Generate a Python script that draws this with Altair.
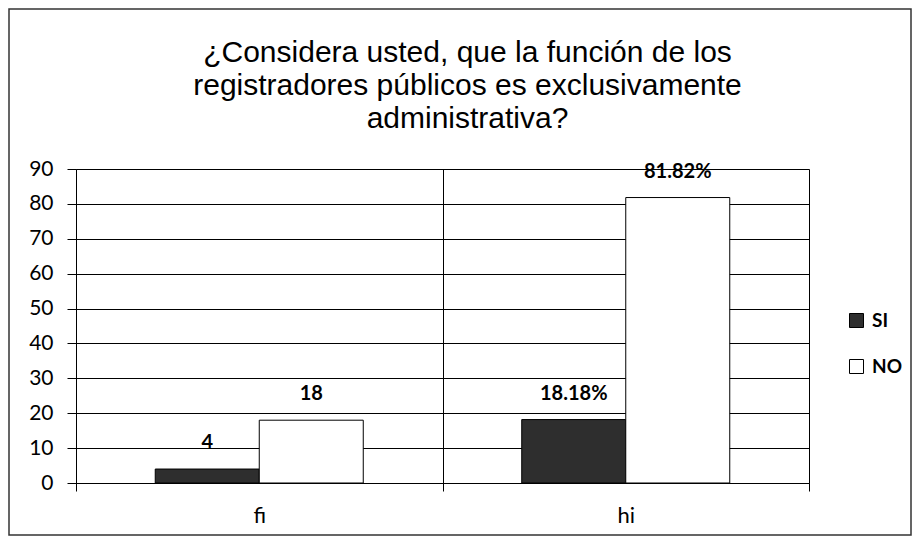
import altair as alt
import pandas as pd

categories = ["fi", "fi", "hi", "hi"]
series = ["SI", "NO", "SI", "NO"]
values = [4, 18, 18.18, 81.82]
labels = ["4", "18", "18.18%", "81.82%"]
y_ticks = [0, 10, 20, 30, 40, 50, 60, 70, 80, 90]
title_lines = [
    "¿Considera usted, que la función de los",
    "registradores públicos es exclusivamente",
    "administrativa?",
]

df = pd.DataFrame({"cat": categories, "serie": series, "valor": values, "etiqueta": labels})

W, H = 733, 314
PL, PT = 68, 161
TOTAL_W, TOTAL_H = 905, 528

x = alt.X(
    "cat:N",
    sort=["fi", "hi"],
    scale=alt.Scale(paddingInner=0, paddingOuter=0),
    axis=alt.Axis(
        title=None, labelAngle=0, tickBand="extent", grid=True, gridColor="black",
        gridOpacity=1, gridWidth=1, labelFont="Lato", labelFontSize=22, labelColor="black",
        tickSize=8, tickColor="black", domainColor="black", labelPadding=14,
    ),
)
xo = alt.XOffset("serie:N", sort=["SI", "NO"], scale=alt.Scale(paddingOuter=0.762, paddingInner=0))
y = alt.Y(
    "valor:Q",
    scale=alt.Scale(domain=[0, 90], nice=False, zero=True),
    axis=alt.Axis(
        title=None, values=y_ticks, grid=True, gridColor="black", gridOpacity=1, gridWidth=1,
        labelFont="Lato", labelFontSize=21, labelColor="black", tickSize=9, tickColor="black",
        domainColor="black", labelPadding=14,
    ),
)

bars = alt.Chart(df).mark_bar(stroke="black", strokeWidth=1).encode(
    x=x,
    xOffset=xo,
    y=y,
    color=alt.Color(
        "serie:N",
        sort=["SI", "NO"],
        scale=alt.Scale(domain=["SI", "NO"], range=["#2e2e2e", "#ffffff"]),
        legend=alt.Legend(
            title=None, orient="none", legendX=771, legendY=142, symbolType="square",
            symbolSize=196, symbolStrokeColor="black", symbolStrokeWidth=1,
            labelFont="Lato", labelFontWeight="bold", labelFontSize=19, labelColor="black",
            rowPadding=26, labelOffset=6, padding=0,
        ),
    ),
)

text = alt.Chart(df).mark_text(
    baseline="middle", dy=-26, font="Lato", fontWeight="bold", fontSize=20, color="black"
).encode(x=x, xOffset=xo, y=y, text="etiqueta:N")

frame = alt.Chart(pd.DataFrame({"k": [0]})).mark_rect(
    filled=False, stroke="#333333", strokeWidth=1.5
).encode(
    x=alt.value(-PL + 1),
    x2=alt.value(TOTAL_W - PL - 2),
    y=alt.value(-PT + 1),
    y2=alt.value(TOTAL_H - PT - 1),
)

# the frame rect defines the top of the bounds (-PT+1); place the title's
# bottom about 34px above the plot area
chart = alt.layer(frame, bars, text).properties(
    width=W,
    height=H,
    autosize=alt.AutoSizeParams(type="none"),
    padding={"left": PL, "top": PT, "right": TOTAL_W - PL - W, "bottom": TOTAL_H - PT - H},
    title=alt.TitleParams(
        text=title_lines, font="Liberation Sans", fontSize=30, fontWeight="normal",
        lineHeight=33, anchor="middle", frame="group", dx=25, offset=34 - (PT - 1), color="black",
    ),
).configure_view(stroke="black", strokeWidth=1).configure(background="white")

chart.save("out.html", embed_options={"renderer": "svg", "actions": False})
